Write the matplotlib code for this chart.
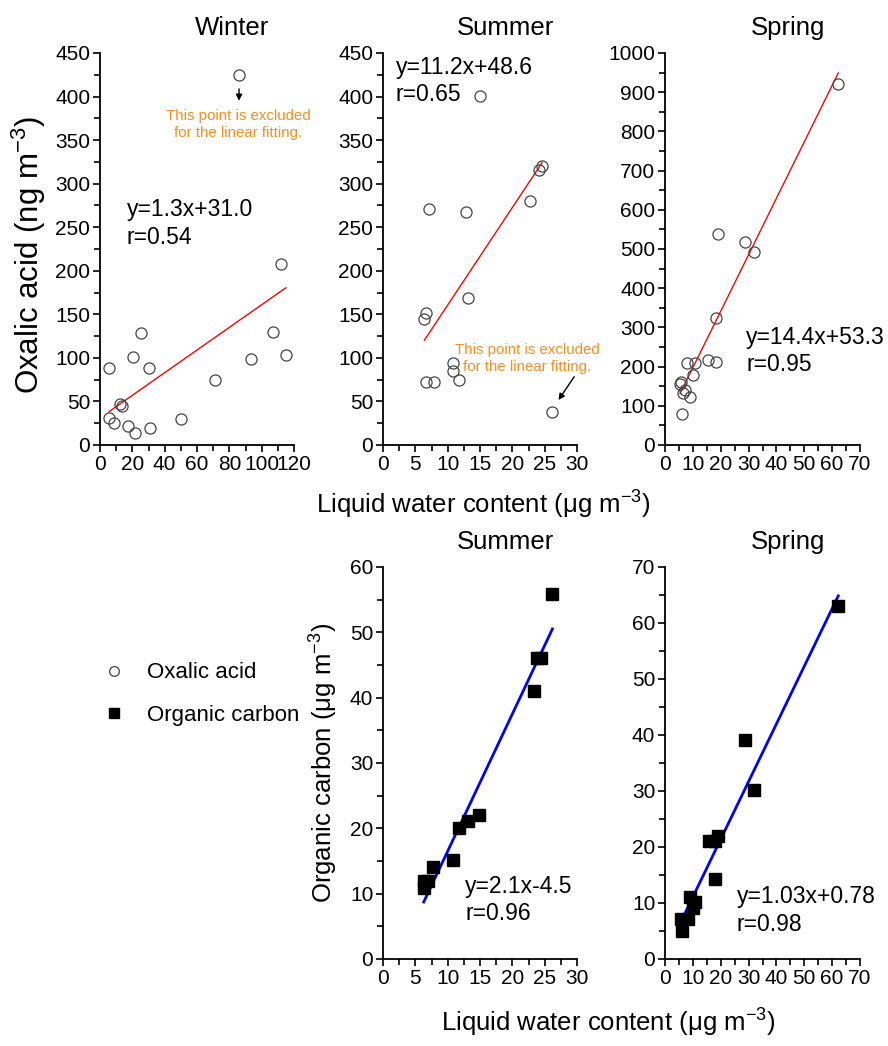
import matplotlib
matplotlib.use('Agg')
import matplotlib.pyplot as plt
from matplotlib.ticker import MultipleLocator
from matplotlib.lines import Line2D
import numpy as np

plt.rcParams['font.family'] = ['Liberation Sans', 'DejaVu Sans']
plt.rcParams['mathtext.default'] = 'regular'

# oxalic acid vs LWC
win_x = [86, 112, 107, 115, 93.4, 71.1, 49.9, 25.2, 20.6, 30.5, 5.8, 12.4, 13.4, 5.6, 8.9, 17.1, 21.6, 30.9]
win_y = [425, 208, 130, 103, 98.7, 74.6, 29.5, 128, 100.6, 88.8, 88.8, 46.7, 44.8, 31.4, 24.9, 22.2, 14.2, 19.9]
win_fit = (1.3, 31.0)
win_excl = 0

sum_x = [15.0, 24.6, 24.1, 22.8, 7.1, 12.9, 13.2, 6.6, 6.4, 10.9, 10.9, 11.8, 6.7, 7.9, 26.2]
sum_y = [401, 320, 316, 280, 271, 268, 168.5, 152, 145, 93.8, 85, 74.7, 72.8, 72, 37.5]
sum_fit = (11.2, 48.6)
sum_excl = 14

spr_x = [62.2, 19.1, 28.7, 31.9, 18.2, 15.6, 18.2, 8.0, 10.8, 9.9, 5.7, 5.4, 7.2, 6.6, 9.0, 6.0]
spr_y = [922, 539, 518, 492, 325, 217, 212, 208.5, 208.5, 178.7, 160, 155.7, 140, 132, 121.7, 78.3]
spr_fit = (14.4, 53.3)

# organic carbon vs LWC
oc_sum_x = [26.2, 24.4, 23.8, 23.3, 14.9, 13.2, 11.8, 10.9, 7.8, 7.0, 6.4, 6.3]
oc_sum_y = [55.9, 46, 46, 41, 22.1, 21.1, 20.1, 15.1, 14.1, 12.0, 12.0, 10.9]
oc_sum_fit = (2.1, -4.5)

oc_spr_x = [62.2, 28.7, 31.9, 19.1, 15.9, 17.9, 17.9, 9.0, 10.8, 10.2, 8.4, 5.6, 6.0]
oc_spr_y = [63, 39.1, 30.1, 22, 21, 21, 14.2, 11, 10.2, 9.1, 7.1, 7.1, 5.0]
oc_spr_fit = (1.03, 0.78)

W, H = 888, 1046
fig = plt.figure(figsize=(W / 100, H / 100), dpi=100)


def make_ax(l, t, r, b):
    ax = fig.add_axes([l / W, 1 - b / H, (r - l) / W, (b - t) / H])
    for s in ['top', 'right']:
        ax.spines[s].set_visible(False)
    for s in ['left', 'bottom']:
        ax.spines[s].set_linewidth(1.3)
    ax.tick_params(which='both', direction='out', width=1.2, labelsize=15, pad=2)
    ax.tick_params(which='major', length=5)
    ax.tick_params(which='minor', length=4)
    return ax


def setup(ax, xmax, xmaj, ymax, ymaj):
    ax.set_xlim(0, xmax)
    ax.set_ylim(0, ymax)
    ax.xaxis.set_major_locator(MultipleLocator(xmaj))
    ax.xaxis.set_minor_locator(MultipleLocator(xmaj / 2))
    ax.yaxis.set_major_locator(MultipleLocator(ymaj))
    ax.yaxis.set_minor_locator(MultipleLocator(ymaj / 2))


def fit_line(ax, xs, fit, color, lw):
    xx = np.array([min(xs), max(xs)])
    ax.plot(xx, fit[0] * xx + fit[1], color=color, lw=lw, zorder=2)


def circles(ax, x, y):
    return ax.plot(x, y, 'o', ms=8, mfc='none', mec='#444444', mew=0.9, zorder=3)[0]


def squares(ax, x, y):
    return ax.plot(x, y, 's', ms=8, color='black', zorder=3)[0]


eq_kw = dict(fontsize=16.5, linespacing=1.25, va='top', ha='left')
note_kw = dict(fontsize=10.8, color='#FF8C1A', ha='center', va='center', linespacing=1.3)
title_kw = dict(fontsize=18.5, pad=13)

# Winter
ax1 = make_ax(100, 53, 294, 445)
setup(ax1, 120, 20, 450, 50)
circles(ax1, win_x, win_y)
fx = [v for i, v in enumerate(win_x) if i != win_excl]
fit_line(ax1, fx, win_fit, 'red', 1.0)
ax1.text(16.5, 283, 'y=1.3x+31.0\nr=0.54', **eq_kw)
ax1.text(85.3, 368, 'This point is excluded\nfor the linear fitting.', **note_kw)
ax1.annotate('', xy=(86, 392), xytext=(86, 412),
             arrowprops=dict(arrowstyle='-|>', color='black', lw=1, mutation_scale=9))
ax1.set_title('Winter', x=0.68, **title_kw)
ax1.set_ylabel('Oxalic acid (ng m$^{-3}$)', fontsize=22.5)
ax1.yaxis.set_label_coords(-0.27, 0.485)

# Summer oxalic
ax2 = make_ax(383, 53, 577, 445)
setup(ax2, 30, 5, 450, 50)
circles(ax2, sum_x, sum_y)
fx = [v for i, v in enumerate(sum_x) if i != sum_excl]
fit_line(ax2, fx, sum_fit, 'red', 1.0)
ax2.text(2.0, 447, 'y=11.2x+48.6\nr=0.65', **eq_kw)
ax2.text(22.3, 99, 'This point is excluded\nfor the linear fitting.', **note_kw)
ax2.annotate('', xy=(26.9, 49), xytext=(29.8, 81),
             arrowprops=dict(arrowstyle='-|>', color='black', lw=1, mutation_scale=9))
ax2.set_title('Summer', x=0.63, **title_kw)

# Spring oxalic
ax3 = make_ax(665, 53, 860, 445)
setup(ax3, 70, 10, 1000, 100)
circles(ax3, spr_x, spr_y)
fit_line(ax3, spr_x, spr_fit, 'red', 1.0)
ax3.text(29.1, 304, 'y=14.4x+53.3\nr=0.95', **eq_kw)
ax3.set_title('Spring', x=0.63, **title_kw)

fig.text(483 / W, 1 - 505 / H, 'Liquid water content (\u03bcg m$^{-3}$)',
         fontsize=18.5, ha='center', va='center')

# Summer OC
ax4 = make_ax(383, 567, 577, 959)
setup(ax4, 30, 5, 60, 10)
squares(ax4, oc_sum_x, oc_sum_y)
fit_line(ax4, oc_sum_x, oc_sum_fit, 'blue', 2.0)
ax4.text(12.7, 12.9, 'y=2.1x-4.5\nr=0.96', **eq_kw)
ax4.set_title('Summer', x=0.63, **title_kw)
ax4.set_ylabel('Organic carbon (\u03bcg m$^{-3}$)', fontsize=18.5)
ax4.yaxis.set_label_coords(-0.224, 0.5)

# Spring OC
ax5 = make_ax(665, 567, 860, 959)
setup(ax5, 70, 10, 70, 10)
squares(ax5, oc_spr_x, oc_spr_y)
fit_line(ax5, oc_spr_x, oc_spr_fit, 'blue', 2.0)
ax5.text(25.8, 13.2, 'y=1.03x+0.78\nr=0.98', **eq_kw)
ax5.set_title('Spring', x=0.63, **title_kw)

fig.text(608 / W, 1 - 1023 / H, 'Liquid water content (\u03bcg m$^{-3}$)',
         fontsize=18.5, ha='center', va='center')

leg_ox = Line2D([], [], marker='o', ls='none', ms=7, mfc='none', mec='#444444', mew=0.9)
leg_oc = Line2D([], [], marker='s', ls='none', ms=7, color='black')
fig.legend([leg_ox, leg_oc], ['Oxalic acid', 'Organic carbon'],
           loc='center left', bbox_to_anchor=(83 / W, 1 - 694 / H), frameon=False,
           fontsize=16, handlelength=1, handletextpad=1.0, labelspacing=0.95)

fig.savefig('out.png', dpi=100)
